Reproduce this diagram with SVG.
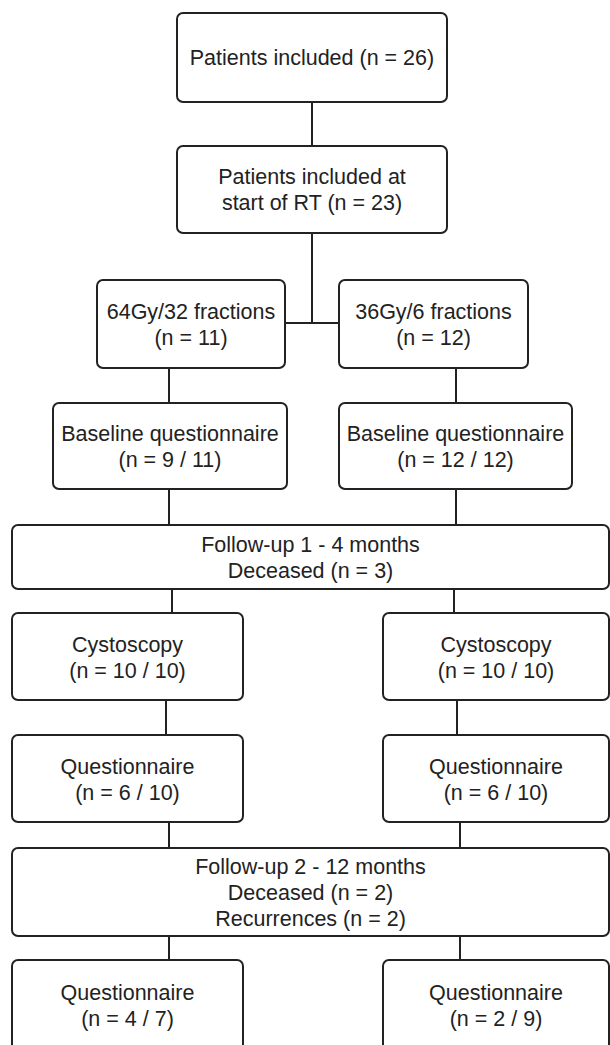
<svg xmlns="http://www.w3.org/2000/svg" width="610" height="1045" viewBox="0 0 610 1045">
<style>
.box{fill:#fff;stroke:#222;stroke-width:2}
.ln{stroke:#222;stroke-width:2;fill:none}
text{font-family:"Liberation Sans",Arial,sans-serif;font-size:21.5px;fill:#222;text-anchor:middle}
</style>
<rect width="610" height="1045" fill="#fff"/>
<g id="connectors">
<line class="ln" x1="312" y1="102" x2="312" y2="146"/>
<line class="ln" x1="312" y1="233" x2="312" y2="323"/>
<line class="ln" x1="285" y1="323" x2="339" y2="323"/>
<line class="ln" x1="169" y1="368" x2="169" y2="403"/>
<line class="ln" x1="456" y1="368" x2="456" y2="403"/>
<line class="ln" x1="169" y1="489" x2="169" y2="525"/>
<line class="ln" x1="456" y1="489" x2="456" y2="525"/>
<line class="ln" x1="172" y1="589" x2="172" y2="613"/>
<line class="ln" x1="454" y1="589" x2="454" y2="613"/>
<line class="ln" x1="166" y1="700" x2="166" y2="735"/>
<line class="ln" x1="457" y1="700" x2="457" y2="735"/>
<line class="ln" x1="169" y1="822" x2="169" y2="848"/>
<line class="ln" x1="460" y1="822" x2="460" y2="848"/>
<line class="ln" x1="169" y1="936" x2="169" y2="960"/>
<line class="ln" x1="460" y1="936" x2="460" y2="960"/>
</g>
<g id="n1"><rect class="box" x="177" y="13" width="270" height="89" rx="6"/><text x="312" y="65">Patients included (n = 26)</text></g>
<g id="n2"><rect class="box" x="177" y="146" width="270" height="87" rx="6"/><text x="312" y="184">Patients included at</text><text x="312" y="210">start of RT (n = 23)</text></g>
<g id="n3"><rect class="box" x="97" y="280" width="188" height="88" rx="6"/><text x="191" y="319">64Gy/32 fractions</text><text x="191" y="345">(n = 11)</text></g>
<g id="n4"><rect class="box" x="339" y="280" width="189" height="88" rx="6"/><text x="433.5" y="319">36Gy/6 fractions</text><text x="433.5" y="345">(n = 12)</text></g>
<g id="n5"><rect class="box" x="53" y="403" width="234" height="86" rx="6"/><text x="170" y="441">Baseline questionnaire</text><text x="170" y="467">(n = 9 / 11)</text></g>
<g id="n6"><rect class="box" x="339" y="403" width="233" height="86" rx="6"/><text x="455.5" y="441">Baseline questionnaire</text><text x="455.5" y="467">(n = 12 / 12)</text></g>
<g id="n7"><rect class="box" x="12" y="525" width="597" height="64" rx="6"/><text x="310.5" y="552">Follow-up 1 - 4 months</text><text x="310.5" y="578">Deceased (n = 3)</text></g>
<g id="n8"><rect class="box" x="12" y="613" width="231" height="87" rx="6"/><text x="127.5" y="652">Cystoscopy</text><text x="127.5" y="678">(n = 10 / 10)</text></g>
<g id="n9"><rect class="box" x="383" y="613" width="226" height="87" rx="6"/><text x="496" y="652">Cystoscopy</text><text x="496" y="678">(n = 10 / 10)</text></g>
<g id="n10"><rect class="box" x="12" y="735" width="231" height="87" rx="6"/><text x="127.5" y="774">Questionnaire</text><text x="127.5" y="800">(n = 6 / 10)</text></g>
<g id="n11"><rect class="box" x="383" y="735" width="226" height="87" rx="6"/><text x="496" y="774">Questionnaire</text><text x="496" y="800">(n = 6 / 10)</text></g>
<g id="n12"><rect class="box" x="12" y="848" width="597" height="88" rx="6"/><text x="310.5" y="874">Follow-up 2 - 12 months</text><text x="310.5" y="900">Deceased (n = 2)</text><text x="310.5" y="926">Recurrences (n = 2)</text></g>
<g id="n13"><rect class="box" x="12" y="960" width="231" height="92" rx="6"/><text x="127.5" y="1000">Questionnaire</text><text x="127.5" y="1026">(n = 4 / 7)</text></g>
<g id="n14"><rect class="box" x="383" y="960" width="226" height="92" rx="6"/><text x="496" y="1000">Questionnaire</text><text x="496" y="1026">(n = 2 / 9)</text></g>
</svg>
